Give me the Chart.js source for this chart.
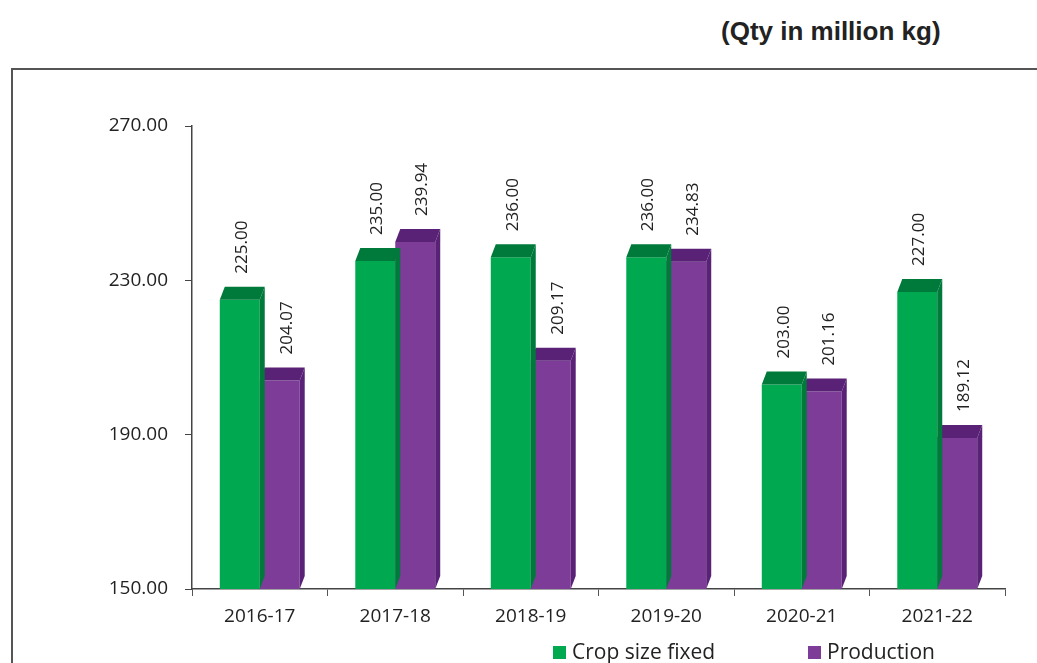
<!DOCTYPE html>
<html>
<head>
<meta charset="utf-8">
<script src="https://cdn.jsdelivr.net/npm/chart.js@4/dist/chart.umd.min.js"></script>
<style>
    body { margin: 0; background: #fff; width: 1037px; height: 663px; overflow: hidden; position: relative; font-family: "Open Sans", sans-serif; }
    #frame { position: absolute; left: 11px; top: 68px; width: 1100px; height: 700px; border-left: 2px solid #555; border-top: 2px solid #555; }
    #unit { position: absolute; left: 721px; top: 16px; font: bold 26px "Liberation Sans", Arial, sans-serif; color: #222; white-space: nowrap; }
    #chart { position: absolute; left: 0; top: 0; }
    .legend { position: absolute; top: 637px; font-size: 21px; color: #222; white-space: nowrap; }
    .legend span { display: inline-block; width: 13px; height: 13px; margin-right: 6px; vertical-align: 0px; }
</style>
</head>
<body>
<div id="frame"></div>
<div id="unit">(Qty in million kg)</div>
<canvas id="chart" width="1037" height="663"></canvas>
<div class="legend" style="left:553px"><span style="background:#00a84f"></span>Crop size fixed</div>
<div class="legend" style="left:808px"><span style="background:#7d3c98"></span>Production</div>
<script>
// Season labels and values (million kg)
const seasons = ['2016-17', '2017-18', '2018-19', '2019-20', '2020-21', '2021-22'];
const cropSizeFixed = [225.00, 235.00, 236.00, 236.00, 203.00, 227.00];
const production = [204.07, 239.94, 209.17, 234.83, 201.16, 189.12];
const yTicks = [150, 190, 230, 270];

const DEPTH_X = 5;
const DEPTH_Y = 13;

// Draw top and side faces so the bars look 3D like the Excel original
const barFaces = {
    id: 'barFaces',
    afterDatasetDraw(chart, args) {
        const ctx = chart.ctx;
        const ds = chart.data.datasets[args.index];
        const bottom = chart.chartArea.bottom;
        ctx.save();
        ctx.fillStyle = ds.darkColor;
        args.meta.data.forEach(bar => {
            const left = bar.x - bar.width / 2;
            const right = bar.x + bar.width / 2;
            const base = Math.min(bar.base, bottom);
            // top
            ctx.beginPath();
            ctx.moveTo(left, bar.y);
            ctx.lineTo(left + DEPTH_X, bar.y - DEPTH_Y);
            ctx.lineTo(right + DEPTH_X, bar.y - DEPTH_Y);
            ctx.lineTo(right, bar.y);
            ctx.closePath();
            ctx.fill();
            // side
            ctx.beginPath();
            ctx.moveTo(right, bar.y);
            ctx.lineTo(right + DEPTH_X, bar.y - DEPTH_Y);
            ctx.lineTo(right + DEPTH_X, base - DEPTH_Y);
            ctx.lineTo(right, base);
            ctx.closePath();
            ctx.fill();
        });
        ctx.restore();
    }
};

// Rotated value labels above each bar
const valueLabels = {
    id: 'valueLabels',
    afterDatasetsDraw(chart) {
        const ctx = chart.ctx;
        ctx.save();
        ctx.font = '17px "Open Sans"';
        ctx.fillStyle = '#222';
        ctx.textAlign = 'left';
        ctx.textBaseline = 'middle';
        chart.data.datasets.forEach((ds, i) => {
            const meta = chart.getDatasetMeta(i);
            meta.data.forEach((bar, j) => {
                ctx.save();
                ctx.translate(bar.x + ds.labelShift, bar.y - 26);
                ctx.rotate(-Math.PI / 2);
                ctx.fillText(ds.data[j].toFixed(2), 0, 0);
                ctx.restore();
            });
        });
        ctx.restore();
    }
};

new Chart(document.getElementById('chart'), {
    type: 'bar',
    data: {
        labels: seasons,
        datasets: [
            {
                label: 'Crop size fixed',
                data: cropSizeFixed,
                backgroundColor: '#00a84f',
                darkColor: '#007a3b',
                labelShift: 2,
                categoryPercentage: 0.59,
                barPercentage: 1.0
            },
            {
                label: 'Production',
                data: production,
                backgroundColor: '#7d3c98',
                darkColor: '#5a2277',
                labelShift: 7,
                categoryPercentage: 0.59,
                barPercentage: 1.0
            }
        ]
    },
    options: {
        responsive: false,
        animation: false,
        layout: { padding: { top: 126, right: 32, left: 0, bottom: 0 } },
        plugins: {
            legend: { display: false },
            tooltip: { enabled: false }
        },
        scales: {
            x: {
                grid: { offset: true, drawOnChartArea: false, tickLength: 7, color: '#555' },
                border: { color: '#444', width: 1.5 },
                ticks: { color: '#222', font: { family: 'Open Sans', size: 19 }, padding: 9 },
                afterFit(scale) { scale.height = 74; }
            },
            y: {
                min: 150,
                max: 270,
                afterBuildTicks(scale) { scale.ticks = yTicks.map(v => ({ value: v })); },
                grid: { drawOnChartArea: false, tickLength: 7, color: '#444' },
                border: { color: '#444', width: 1.5 },
                ticks: {
                    color: '#222',
                    font: { family: 'Open Sans', size: 19 },
                    padding: 17,
                    callback: v => v.toFixed(2)
                },
                afterFit(scale) { scale.width = 192; }
            }
        }
    },
    plugins: [barFaces, valueLabels]
});
</script>
</body>
</html>
